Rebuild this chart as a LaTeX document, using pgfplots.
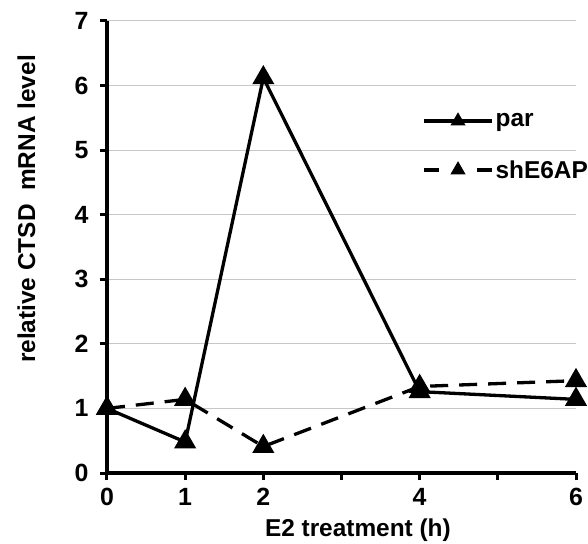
\documentclass[border=0pt]{standalone}
\usepackage{fontspec}
\setmainfont{Liberation Sans}
\usepackage{pgfplots}
\pgfplotsset{compat=1.18}

\begin{document}
\begin{tikzpicture}
\begin{axis}[
    at={(0,0)}, anchor=south west,
    scale only axis,
    width=469bp, height=452bp,
    xmin=0, xmax=6, ymin=0, ymax=7,
    axis x line=bottom, axis y line=left,
    axis line style={-, line width=3.8bp},
    xtick={0,1,2,3,4,5,6},
    xticklabels={0,1,2,,4,,6},
    ytick={0,1,...,7},
    tick align=outside,
    major tick length=7bp,
    tick style={line width=3bp, black},
    ymajorgrids,
    grid style={black!22, line width=1bp},
    /pgf/number format/assume math mode=true,
    tick label style={font=\fontsize{25}{25}\selectfont\bfseries},
    xticklabel style={yshift=-5bp},
    yticklabel style={xshift=-8bp},
    label style={font=\fontsize{24.5}{25}\selectfont\bfseries},
    xlabel={E2 treatment (h)},
    ylabel={relative CTSD\ \ mRNA level},
    xlabel style={at={(axis description cs:0.535,-0.126)}, anchor=center},
    ylabel style={at={(axis description cs:-0.172,0.584)}, anchor=center},
    clip=false,
    legend style={draw=none, fill=none, at={(rel axis cs:0.672,0.722)}, anchor=west,
        font=\fontsize{24.5}{25}\selectfont\bfseries, row sep=28bp, inner sep=0pt},
    legend cell align=left,
    legend image code/.code={\draw[mark repeat=2, mark phase=2, #1] plot coordinates {(0bp,0bp) (34bp,0bp) (68bp,0bp)};},
]
\addplot[black, line width=3.3bp, mark=triangle*, mark size=9.5bp,
    legend image post style={mark size=5.5bp}]
    coordinates {(0,1.0) (1,0.48) (2,6.12) (4,1.26) (6,1.14)};
\addlegendentry{par}
\addplot[black, line width=3.3bp, dash pattern=on 18bp off 11bp, mark=triangle*, mark size=9.5bp,
    mark options={solid},
    legend image post style={dash pattern=on 15bp off 38bp, mark size=5.5bp}]
    coordinates {(0,1.0) (1,1.14) (2,0.41) (4,1.34) (6,1.43)};
\addlegendentry{shE6AP}
\end{axis}
\pgfresetboundingbox
\path[use as bounding box] (-107bp,-71bp) rectangle (481bp,473bp);
\end{tikzpicture}
\end{document}
